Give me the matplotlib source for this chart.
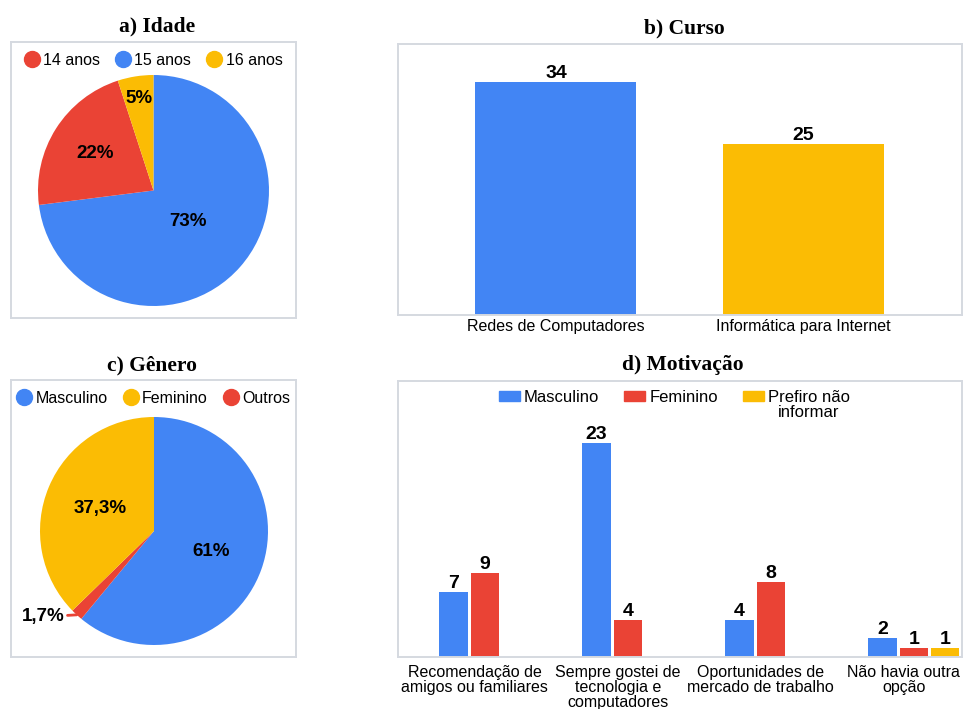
import numpy as np
import matplotlib
matplotlib.use('Agg')
import matplotlib.pyplot as plt
from matplotlib.lines import Line2D
from matplotlib.patches import Patch, Rectangle
from matplotlib.legend_handler import HandlerPatch

plt.rcParams['font.family'] = ['Liberation Sans', 'DejaVu Sans']

W, H = 964, 709
BLUE = '#4285f4'
RED = '#ea4335'
YELLOW = '#fbbc04'
BORDER = '#d5d9e0'

# a) Idade (%)
idade_nomes = ['14 anos', '15 anos', '16 anos']
idade_pct = [22, 73, 5]

# b) Curso (alunos)
cursos = ['Redes de Computadores', 'Informática para Internet']
curso_alunos = [34, 25]

# c) Gênero (%)
genero_nomes = ['Masculino', 'Feminino', 'Outros']
genero_pct = [61, 37.3, 1.7]

# d) Motivação (alunos)
motivos = ['Recomendação de\namigos ou familiares',
           'Sempre gostei de\ntecnologia e\ncomputadores',
           'Oportunidades de\nmercado de trabalho',
           'Não havia outra\nopção']
motiv_masc = [7, 23, 4, 2]
motiv_fem = [9, 4, 8, 1]
motiv_nao_inf = [0, 0, 0, 1]
motiv_series = ['Masculino', 'Feminino', 'Prefiro não\ninformar']

fig = plt.figure(figsize=(W / 100, H / 100), dpi=100)


def panel(l, t, r, b):
    ax = fig.add_axes([l / W, 1 - b / H, (r - l) / W, (b - t) / H])
    for s in ax.spines.values():
        s.set_color(BORDER)
        s.set_linewidth(1.4)
    return ax


def title(x, y, txt):
    fig.text(x / W, 1 - y / H, txt, ha='center', va='baseline',
             family='Liberation Serif', weight='bold', fontsize=15.5)


def pct_txt(v):
    return f'{v:g}%'.replace('.', ',')


def pie_panel(ax, w, h, pct, nomes, cores, ordem, cx, cy, r, dists):
    vals = [pct[i] for i in ordem]
    cols = [cores[i] for i in ordem]
    wedges, _ = ax.pie(vals, colors=cols, startangle=90, counterclock=False,
                       center=(cx, cy), radius=r, frame=True,
                       wedgeprops=dict(linewidth=0))
    ax.set_xlim(0, w)
    ax.set_ylim(0, h)
    ax.set_aspect('auto')
    ax.set_xticks([])
    ax.set_yticks([])
    for wdg, v, d in zip(wedges, vals, dists):
        ang = np.deg2rad((wdg.theta1 + wdg.theta2) / 2)
        if d is None:
            # fatia pequena: rótulo fora com linha guia
            ex, ey = cx + r * np.cos(ang), cy + r * np.sin(ang)
            ax.annotate(pct_txt(v), xy=(ex, ey), xytext=(ex - 12, ey - 2),
                        ha='right', va='center', fontsize=13.5, weight='bold',
                        arrowprops=dict(arrowstyle='-', color=wdg.get_facecolor(),
                                        lw=2, shrinkA=0, shrinkB=0))
        else:
            ax.text(cx + d * r * np.cos(ang), cy + d * r * np.sin(ang), pct_txt(v),
                    ha='center', va='center', fontsize=13.5, weight='bold')
    handles = [Line2D([], [], marker='o', ls='', color=c, markersize=11.5) for c in cores]
    ax.legend(handles, nomes, loc='upper center', bbox_to_anchor=(0.5, 1 - 11 / h),
              ncol=3, frameon=False, fontsize=11.5, handlelength=0.9,
              handletextpad=0.25, columnspacing=1.0, borderpad=0, borderaxespad=0)


# a) Idade
title(157, 31.7, 'a) Idade')
ax_a = panel(11, 42, 296, 318)
pie_panel(ax_a, 285, 276, idade_pct, idade_nomes, [RED, BLUE, YELLOW], [1, 0, 2],
          142.5, 127.5, 115.5, [0.40, 0.60, 0.81])

# c) Gênero
title(152, 370.7, 'c) Gênero')
ax_c = panel(11, 380, 296, 657)
pie_panel(ax_c, 285, 277, genero_pct, genero_nomes, [BLUE, YELLOW, RED], [0, 2, 1],
          143, 126, 114, [0.53, None, 0.51])

# b) Curso
title(684, 33.3, 'b) Curso')
ax_b = panel(398, 44, 962, 315)
bars = ax_b.bar(range(len(cursos)), curso_alunos, width=0.65, color=[BLUE, YELLOW])
ax_b.bar_label(bars, padding=0, fontsize=14, weight='bold')
ax_b.set_xlim(-0.638, 1.64)
ax_b.set_ylim(0, 39.6)
ax_b.set_yticks([])
ax_b.set_xticks(range(len(cursos)), cursos)
ax_b.tick_params(axis='x', length=0, pad=3, labelsize=11.5)

# d) Motivação
title(683, 370, 'd) Motivação')
ax_d = panel(398, 381, 962, 657)
x = np.arange(len(motivos))
passo, larg = 0.219, 0.2
for off, vals, cor in zip([-passo, 0, passo], [motiv_masc, motiv_fem, motiv_nao_inf],
                          [BLUE, RED, YELLOW]):
    b = ax_d.bar(x + off, vals, width=larg, color=cor)
    ax_d.bar_label(b, labels=['' if v == 0 else str(v) for v in vals],
                   padding=0, fontsize=14, weight='bold')
ax_d.set_xlim(-0.607, 3.337)
ax_d.set_ylim(0, 29.6)
ax_d.set_yticks([])
ax_d.set_xticks(x - 0.07, motivos)
ax_d.tick_params(axis='x', length=0, pad=6, labelsize=11.5)
for t in ax_d.get_xticklabels():
    t.set_linespacing(0.98)


def handle_topo(legend, orig_handle, xdescent, ydescent, width, height, fontsize):
    # retângulo alinhado com a primeira linha do rótulo
    return Rectangle((-xdescent, -ydescent + 0.58 * fontsize), width, height)


# todos os rótulos com duas linhas para alinhar pela linha de cima
rotulos = [s if '\n' in s else s + '\n' for s in motiv_series]
handles = [Patch(color=c) for c in [BLUE, RED, YELLOW]]
leg = ax_d.legend(handles, rotulos, loc='upper center', bbox_to_anchor=(0.49, 1 - 9 / 276),
                  ncol=3, frameon=False, fontsize=12, handlelength=1.26, handleheight=0.54,
                  handletextpad=0.25, columnspacing=1.5, borderpad=0, borderaxespad=0,
                  handler_map={Patch: HandlerPatch(patch_func=handle_topo)})
for t in leg.get_texts():
    t.set_multialignment('center')
    t.set_linespacing(1.02)

fig.savefig('out.png', dpi=100)
